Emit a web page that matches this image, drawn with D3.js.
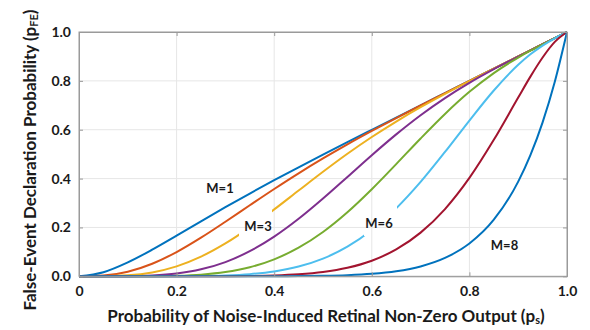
<!DOCTYPE html>
<html><head><meta charset="utf-8">
<script src="https://cdn.jsdelivr.net/npm/d3@7"></script>
<style>
body{margin:0;background:#fff;}
svg text{font-family:Lato,"Open Sans",sans-serif;font-weight:bold;fill:#1a1a1a;}
</style></head>
<body><svg id="c" width="590" height="330"></svg>
<script>
const ps = [0,0.05,0.1,0.15,0.2,0.25,0.3,0.35,0.4,0.45,0.5,0.55,0.6,0.65,0.7,0.75,0.8,0.85,0.9,0.925,0.95,0.975,1];
const M1 = [0,0.0168,0.0570,0.1091,0.1665,0.2250,0.2827,0.3389,0.3933,0.4462,0.4980,0.5491,0.5996,0.6499,0.7000,0.7500,0.8000,0.8500,0.9000,0.925,0.95,0.975,1];
const M2 = [0,0.0029,0.0187,0.0514,0.0993,0.1582,0.2234,0.2908,0.3575,0.4216,0.4824,0.5400,0.5949,0.6477,0.6991,0.7497,0.7999,0.8500,0.9000,0.925,0.95,0.975,1];
const M3 = [0,0.0003,0.0038,0.0158,0.0406,0.0804,0.1345,0.2003,0.2738,0.3509,0.4277,0.5014,0.5701,0.6335,0.6921,0.7468,0.7990,0.8498,0.9000,0.925,0.95,0.975,1];
const M4 = [0,0,0.0005,0.0032,0.0113,0.0285,0.0582,0.1028,0.1624,0.2354,0.3184,0.4068,0.4958,0.5810,0.6594,0.7295,0.7917,0.8476,0.8996,0.925,0.95,0.975,1];
const M5 = [0,0,0,0.0004,0.0021,0.0068,0.0174,0.0371,0.0695,0.1172,0.1816,0.2623,0.3565,0.4592,0.5641,0.6646,0.7550,0.8319,0.8955,0.9235,0.9497,0.975,1];
const M6 = [0,0,0,0,0.0003,0.0011,0.0034,0.0089,0.0199,0.0398,0.0723,0.1211,0.1892,0.2781,0.3862,0.5089,0.6375,0.7606,0.8657,0.9087,0.9445,0.9743,1];
const M7 = [0,0,0,0,0,0.0001,0.0004,0.0013,0.0034,0.0082,0.0176,0.0348,0.0638,0.1099,0.1787,0.2753,0.4027,0.5586,0.7318,0.8174,0.8956,0.9595,1];
const M8 = [0,0,0,0,0,0,0,0.0001,0.0003,0.0008,0.0020,0.0046,0.0101,0.0207,0.0404,0.0751,0.1342,0.2316,0.3874,0.4958,0.6302,0.7962,1];
const seriesNames = ["M=1","M=2","M=3","M=4","M=5","M=6","M=7","M=8"];
const seriesValues = [M1,M2,M3,M4,M5,M6,M7,M8];
const xTicks = [0,0.2,0.4,0.6,0.8,1.0];
const xTickLabels = ["0","0.2","0.4","0.6","0.8","1.0"];
const yTicks = [0,0.2,0.4,0.6,0.8,1.0];
const yTickLabels = ["0.0","0.2","0.4","0.6","0.8","1.0"];
const labeled = ["M=1","M=3","M=6","M=8"];

const colors = ["#0072BD","#D95319","#EDB120","#7E2F8E","#77AC30","#4DBEEE","#A2142F","#0072BD"];
// label layout (pixel centres) and gap boxes
const labelPos = {"M=1":[220,188],"M=3":[258,225.5],"M=6":[379,222.5],"M=8":[504.5,244.5]};
const gapBox = {"M=3":[239,206,33,31],"M=6":[364,204,33,32]};

const svg = d3.select("#c");
const L=79,T=32,W=488,H=244.3;
const x = d3.scaleLinear().domain([0,1]).range([L,L+W]);
const y = d3.scaleLinear().domain([0,1]).range([T+H,T]);

// grid
const g = svg.append("g");
g.selectAll(".gx").data(xTicks.slice(1,-1)).join("line")
 .attr("x1",d=>x(d)).attr("x2",d=>x(d)).attr("y1",T).attr("y2",T+H)
 .attr("stroke","#e6e6e6").attr("stroke-width",1);
g.selectAll(".gy").data(yTicks.slice(1,-1)).join("line")
 .attr("y1",d=>y(d)).attr("y2",d=>y(d)).attr("x1",L).attr("x2",L+W)
 .attr("stroke","#e6e6e6").attr("stroke-width",1);

// masks
const defs = svg.append("defs");
Object.entries(gapBox).forEach(([k,b])=>{
  const m = defs.append("mask").attr("id","mask"+k.replace("=","")).attr("maskUnits","userSpaceOnUse")
    .attr("x",0).attr("y",0).attr("width",590).attr("height",330);
  m.append("rect").attr("x",0).attr("y",0).attr("width",590).attr("height",330).attr("fill","#fff");
  m.append("rect").attr("x",b[0]).attr("y",b[1]).attr("width",b[2]).attr("height",b[3]).attr("fill","#000");
});

const line = d3.line().x((d,i)=>x(ps[i])).y(d=>y(d)).curve(d3.curveMonotoneX);
const lines = svg.append("g");
seriesValues.forEach((vals,i)=>{
  const p = lines.append("path").attr("d",line(vals)).attr("fill","none")
    .attr("stroke",colors[i]).attr("stroke-width",2).attr("stroke-linejoin","round");
  if(gapBox[seriesNames[i]]) p.attr("mask","url(#mask"+seriesNames[i].replace("=","")+")");
});

// axes
const ax = d3.axisBottom(x).tickValues(xTicks).tickFormat((d,i)=>xTickLabels[i]).tickSizeInner(-4).tickSizeOuter(0).tickPadding(10);
const ay = d3.axisLeft(y).tickValues(yTicks).tickFormat((d,i)=>yTickLabels[i]).tickSizeInner(-4).tickSizeOuter(0).tickPadding(8);
const axT = d3.axisTop(x).tickValues(xTicks).tickFormat("").tickSizeInner(-4).tickSizeOuter(0);
const ayR = d3.axisRight(y).tickValues(yTicks).tickFormat("").tickSizeInner(-4).tickSizeOuter(0);
svg.append("g").attr("transform",`translate(0,${T+H})`).call(ax);
svg.append("g").attr("transform",`translate(${L},0)`).call(ay);
svg.append("g").attr("transform",`translate(0,${T})`).call(axT);
svg.append("g").attr("transform",`translate(${L+W},0)`).call(ayR);
svg.selectAll(".domain").attr("stroke","#9a9a9a");
svg.selectAll(".tick line").attr("stroke","#9a9a9a");
svg.selectAll(".tick text").attr("font-size",14).attr("font-family","Lato,'Open Sans',sans-serif").attr("font-weight","bold").attr("fill","#1a1a1a");
svg.append("rect").attr("x",L).attr("y",T).attr("width",W).attr("height",H).attr("fill","none").attr("stroke","#9a9a9a");

// labels
labeled.forEach(k=>{
  const p = labelPos[k];
  svg.append("text").attr("x",p[0]).attr("y",p[1]).attr("text-anchor","middle").attr("dominant-baseline","central")
    .attr("font-size",13).text(k);
});

// axis titles
const xt = svg.append("text").attr("x",326).attr("y",322).attr("text-anchor","middle").attr("font-size",17);
xt.append("tspan").text("Probability of Noise-Induced Retinal Non-Zero Output (p");
xt.append("tspan").attr("font-size",11).attr("dy",2).text("s");
xt.append("tspan").attr("dy",-2).text(")");
const yt = svg.append("text").attr("transform",`translate(36,160) rotate(-90)`).attr("text-anchor","middle").attr("font-size",17);
yt.append("tspan").text("False-Event Declaration Probability (p");
yt.append("tspan").attr("font-size",11).attr("dy",2).text("FE");
yt.append("tspan").attr("dy",-2).text(")");
</script></body></html>
